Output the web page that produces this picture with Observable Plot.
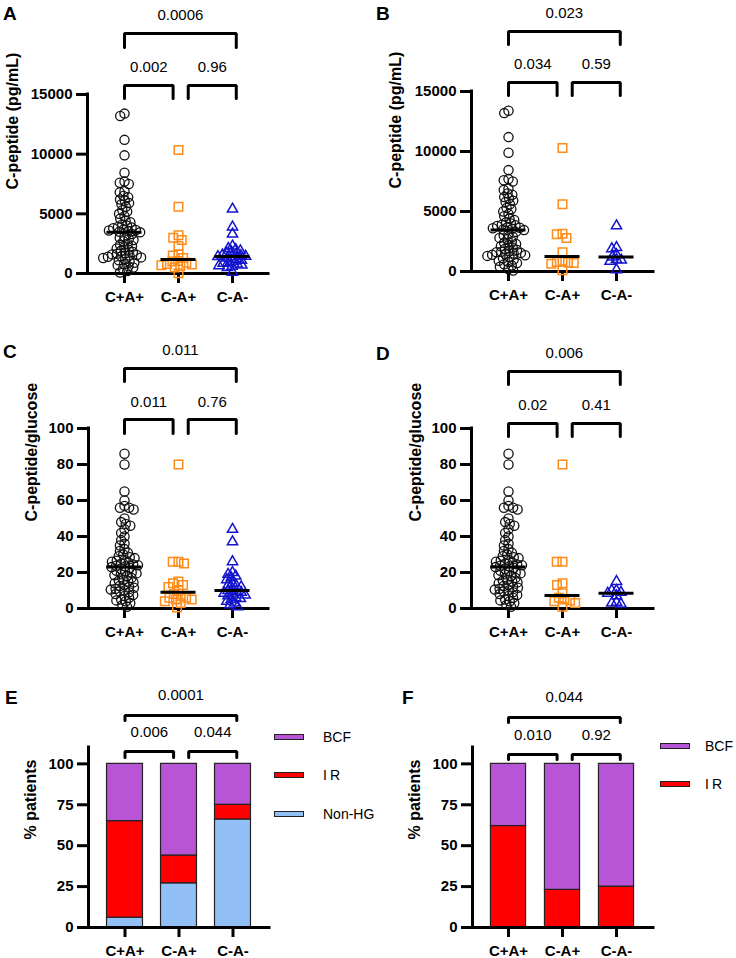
<!DOCTYPE html>
<html><head><meta charset="utf-8">
<script src="https://cdn.jsdelivr.net/npm/d3@7"></script>
<script src="https://cdn.jsdelivr.net/npm/@observablehq/plot@0.6"></script>
<style>
body{margin:0;background:#fff;}
#page{position:relative;width:736px;height:958px;overflow:hidden;font-family:"Liberation Sans",Arial,sans-serif;color:#000;}
#page svg{position:absolute;left:0;top:0;}
.letter{position:absolute;font-weight:bold;font-size:19px;line-height:20px;height:20px;}
.leg{position:absolute;font-size:14px;line-height:16px;height:16px;white-space:nowrap;}
.sw{position:absolute;width:28px;height:4px;border:1px solid #222;}
</style></head><body><div id="page"></div><script>
// ---------- data ----------
const groups = ["C+A+", "C-A+", "C-A-"];

// C-peptide (pg/mL)
const cpepCpAp = [13400,13200,11200,9900,8450,7700,7600,7500,6900,6800,6500,6400,6200,6100,5900,5800,5600,5300,5200,5000,4800,4600,4400,4300,4100,4000,3900,3850,3800,3700,3650,3600,3550,3500,3450,3300,3100,3000,2900,2800,2700,2500,2400,2300,2200,2100,2000,1900,1800,1700,1650,1600,1550,1500,1450,1400,1350,1300,1200,1100,1000,900,800,700,600,500,400,200,80];
const cpepCmApA = [10350,5600,3200,3000,2800,2300,1600,1500,1300,1050,1000,900,800,750,700,600,500,30];
const cpepCmAmA = [5400,3900,3300,2300,2100,2000,1900,1800,1700,1600,1550,1500,1450,1420,1400,1300,1200,1100,1000,900,850,800,700,650,600,500,100];
const cpepCmApB = [10300,5600,3150,3100,2800,1600,900,800,750,700,650,100];
const cpepCmAmB = [3800,2000,1900,1400,1200,1000,950,850,150];

// C-peptide/glucose
const ratioCpAp = [86,80,65,60,57,56,56,55,50,48,47,46,44,42,40,38,36,35,33,32,31,30,29,28.5,28,27,26.5,26,25.5,25,24.5,24,23.8,23.4,23,22.5,22,21,20.5,20,19.5,19,18.5,18,17,16,15.5,15,14.5,14,13,12.5,12,11.5,11,10.5,10,9.5,9,8,7.5,7,6,5,4.5,4,3,2,1];
const ratioCmApC = [80,26,26,25,15,14,13,12,10,8,7,6,6,5,5,4,3,0.5];
const ratioCmAmC = [44,37,26,20,19,18,17,16,14,13,12.5,12,11,10,9.5,9,8.5,8,7.5,7,6,5.5,5,4,3,2,1];
const ratioCmApD = [80,26,26,14,13,8.5,6,5,4.5,4,3,1];
const ratioCmAmD = [15,10,10,9,8.5,7,3.5,3,2.5];

// % patients
const catsE = ["Non-HG", "IR", "BCF"];
const nonHgE = [6, 27, 66];
const irE = [59, 17, 9];
const bcfE = [35, 56, 25];
const catsF = ["IR", "BCF"];
const irF = [62, 23, 25];
const bcfF = [38, 77, 75];

// p-values: [C+A+ vs C-A+, C-A+ vs C-A-, C+A+ vs C-A-]
const pA = ["0.002", "0.96", "0.0006"];
const pB = ["0.034", "0.59", "0.023"];
const pC = ["0.011", "0.76", "0.011"];
const pD = ["0.02", "0.41", "0.006"];
const pE = ["0.006", "0.044", "0.0001"];
const pF = ["0.010", "0.92", "0.044"];

const cpepTicks = [0, 5000, 10000, 15000];
const ratioTicks = [0, 20, 40, 60, 80, 100];
const pctTicks = [0, 25, 50, 75, 100];

// ---------- styles ----------
const catColors = {"Non-HG": "#92c0f6", "IR": "#ff0000", "BCF": "#b855d6"};
const dotStyles = [
  {symbol: "circle", r: 4.6, sw: 1.3, color: "#111111", pad: -4.3},
  {symbol: "square", r: 4.8, sw: 1.5, color: "#ff8c1a", pad: -3.8},
  {symbol: "triangle", r: 3.8, sw: 1.5, color: "#1414cc", pad: -2.8}
];
const svgStyle = {background: "transparent", overflow: "visible", fontFamily: "'Liberation Sans', Arial, sans-serif", color: "#000"};
const page = document.getElementById("page");

function bracketMarks(L, yMax, p) {
  const yv = px => (L.y0 - px) / (L.y0 - L.yTop) * yMax;
  const defs = [
    {id: 0, x1: 0, x2: 0.9, h: L.lowH, leg: L.lowLeg, t: L.lowText, p: p[0]},
    {id: 1, x1: 1.18, x2: 2.07, h: L.lowH, leg: L.lowLeg, t: L.lowText, p: p[1]},
    {id: 2, x1: 0, x2: 2.07, h: L.topH, leg: L.topLeg, t: L.topText, p: p[2]}
  ];
  const pts = defs.flatMap(d => [
    {id: d.id, x: d.x1, y: yv(d.leg)}, {id: d.id, x: d.x1, y: yv(d.h)},
    {id: d.id, x: d.x2, y: yv(d.h)}, {id: d.id, x: d.x2, y: yv(d.leg)}]);
  return [
    Plot.line(pts, {x: "x", y: "y", z: "id", stroke: "black", strokeWidth: 3, strokeLinejoin: "miter"}),
    Plot.text(defs, {x: d => (d.x1 + d.x2) / 2, y: d => yv(d.t), text: "p", fontSize: 15, fill: "black"})
  ];
}

function basePlot(L, yMax, ticks, ylabel, p, extra = [], color = undefined) {
  const a = -(L.c0 - L.axisX) / L.step;
  const b = a + (L.xEnd - L.axisX) / L.step;
  return Plot.plot({
    width: 736, height: 958,
    marginLeft: L.axisX, marginRight: 736 - L.xEnd, marginTop: L.yTop, marginBottom: 958 - L.y0,
    x: {domain: [a, b]}, y: {domain: [0, yMax]},
    color,
    style: svgStyle,
    marks: [
      ...extra,
      ...bracketMarks(L, yMax, p),
      Plot.ruleY([0], {x1: a, x2: b, stroke: "black", strokeWidth: 3, strokeLinecap: "square"}),
      Plot.ruleX([a], {y1: 0, y2: yMax, stroke: "black", strokeWidth: 3, strokeLinecap: "square"}),
      Plot.axisY(ticks, {tickSize: 11, tickPadding: 4, tickFormat: d => String(d), fontSize: 15, fontWeight: "bold", strokeWidth: 3, label: null}),
      Plot.axisX([0, 1, 2], {tickSize: 10, tickPadding: 8, tickFormat: i => groups[i], fontSize: 15, fontWeight: "bold", strokeWidth: 3, label: null}),
      Plot.text([ylabel], {frameAnchor: "left", dx: L.labDx, dy: L.labDy, rotate: -90, fontSize: 16, fontWeight: "bold", text: d => d, fill: "black"})
    ]
  });
}

function overlayPlot(L, yMax, groupVals) {
  const rangeEnd = 2 * L.c0 - L.axisX + 2 * L.step;
  const po = (L.c0 - L.axisX) / L.step - 0.5;
  const marks = [];
  groupVals.forEach((vals, gi) => {
    const pts = vals.map(v => ({g: groups[gi], v}));
    const s = dotStyles[gi];
    marks.push(Plot.dot(pts, Plot.dodgeX({anchor: "middle", padding: s.pad}, {fx: "g", y: "v", r: s.r, symbol: s.symbol, stroke: s.color, strokeWidth: s.sw, fill: "none"})));
  });
  groupVals.forEach((vals, gi) => {
    const pts = vals.map(v => ({g: groups[gi], v}));
    marks.push(Plot.tickY(pts, Plot.groupZ({y: "median"}, {fx: "g", y: "v", stroke: "black", strokeWidth: 3, insetLeft: 9.5, insetRight: 9.5})));
  });
  return Plot.plot({
    width: 736, height: 958,
    marginLeft: L.axisX, marginRight: 736 - rangeEnd, marginTop: L.yTop, marginBottom: 958 - L.y0,
    fx: {domain: groups, paddingInner: 0, paddingOuter: po, axis: null},
    y: {domain: [0, yMax], axis: null}, x: {axis: null},
    style: svgStyle,
    marks
  });
}

// ---------- layouts (page pixels) ----------
const LA = {axisX: 87, y0: 273, yTop: 94, c0: 124, step: 54, xEnd: 268, lowH: 85, lowLeg: 98, lowText: 67, topH: 33, topLeg: 47, topText: 15, labDx: -74.5, labDy: 5.5};
const LB = {axisX: 471, y0: 271, yTop: 91, c0: 508, step: 54, xEnd: 653, lowH: 82, lowLeg: 95, lowText: 64, topH: 31, topLeg: 44, topText: 13, labDx: -76, labDy: 7};
const LC = {axisX: 88, y0: 608, yTop: 428, c0: 124, step: 54, xEnd: 268, lowH: 419, lowLeg: 433, lowText: 402, topH: 368, topLeg: 381, topText: 350, labDx: -57, labDy: 3};
const LD = {axisX: 471, y0: 608, yTop: 428, c0: 508, step: 54, xEnd: 653, lowH: 423, lowLeg: 436, lowText: 405, topH: 371, topLeg: 384, topText: 353, labDx: -56, labDy: 3};
const LE = {axisX: 88, y0: 927, yTop: 747, c0: 124.5, step: 54, xEnd: 269, lowH: 751, lowLeg: 757, lowText: 732, topH: 715, topLeg: 720, topText: 695, labDx: -58, labDy: 2};
const LF = {axisX: 472, y0: 927, yTop: 747, c0: 508, step: 54, xEnd: 653, lowH: 754, lowLeg: 759, lowText: 735, topH: 717, topLeg: 722, topText: 697, labDx: -58, labDy: 2};

// ---------- scatter panels ----------
page.append(basePlot(LA, 15000, cpepTicks, "C-peptide (pg/mL)", pA));
page.append(overlayPlot(LA, 15000, [cpepCpAp, cpepCmApA, cpepCmAmA]));
page.append(basePlot(LB, 15000, cpepTicks, "C-peptide (pg/mL)", pB));
page.append(overlayPlot(LB, 15000, [cpepCpAp, cpepCmApB, cpepCmAmB]));
page.append(basePlot(LC, 100, ratioTicks, "C-peptide/glucose", pC));
page.append(overlayPlot(LC, 100, [ratioCpAp, ratioCmApC, ratioCmAmC]));
page.append(basePlot(LD, 100, ratioTicks, "C-peptide/glucose", pD));
page.append(overlayPlot(LD, 100, [ratioCpAp, ratioCmApD, ratioCmAmD]));

// ---------- stacked bar panels ----------
function barMarks(rows, hw) {
  return [Plot.rectY(rows, Plot.stackY({x1: d => d.i - hw, x2: d => d.i + hw, y: "v", fill: "cat", stroke: "#222", strokeWidth: 1.2}))];
}
const rowsE = groups.flatMap((g, i) => [
  {i, cat: "Non-HG", v: nonHgE[i]}, {i, cat: "IR", v: irE[i]}, {i, cat: "BCF", v: bcfE[i]}]);
const rowsF = groups.flatMap((g, i) => [
  {i, cat: "IR", v: irF[i]}, {i, cat: "BCF", v: bcfF[i]}]);
page.append(basePlot(LE, 110, pctTicks, "% patients", pE, barMarks(rowsE, 0.333),
  {domain: catsE, range: catsE.map(c => catColors[c])}));
page.append(basePlot(LF, 110, pctTicks, "% patients", pF, barMarks(rowsF, 0.325),
  {domain: catsF, range: catsF.map(c => catColors[c])}));

// ---------- legends ----------
function legend(cats, x, ys, tx) {
  cats.forEach((c, k) => {
    const sw = document.createElement("div");
    sw.className = "sw";
    sw.style.left = x + "px"; sw.style.top = (ys[k] - 3) + "px";
    sw.style.background = catColors[c];
    page.append(sw);
    const t = document.createElement("div");
    t.className = "leg";
    t.style.left = tx + "px"; t.style.top = (ys[k] - 8) + "px";
    t.textContent = c;
    if (c === "IR") t.style.letterSpacing = "3px";
    page.append(t);
  });
}
legend(["BCF", "IR", "Non-HG"], 274, [737, 775, 814], 323);
legend(["BCF", "IR"], 660, [746, 784], 705);

// ---------- panel letters ----------
[["A", 3, 14], ["B", 376, 14], ["C", 3, 352], ["D", 376, 354], ["E", 5, 698], ["F", 402, 698]].forEach(([l, x, cy]) => {
  const d = document.createElement("div");
  d.className = "letter";
  d.style.left = x + "px"; d.style.top = (cy - 10) + "px";
  d.textContent = l;
  page.append(d);
});
</script></body></html>
